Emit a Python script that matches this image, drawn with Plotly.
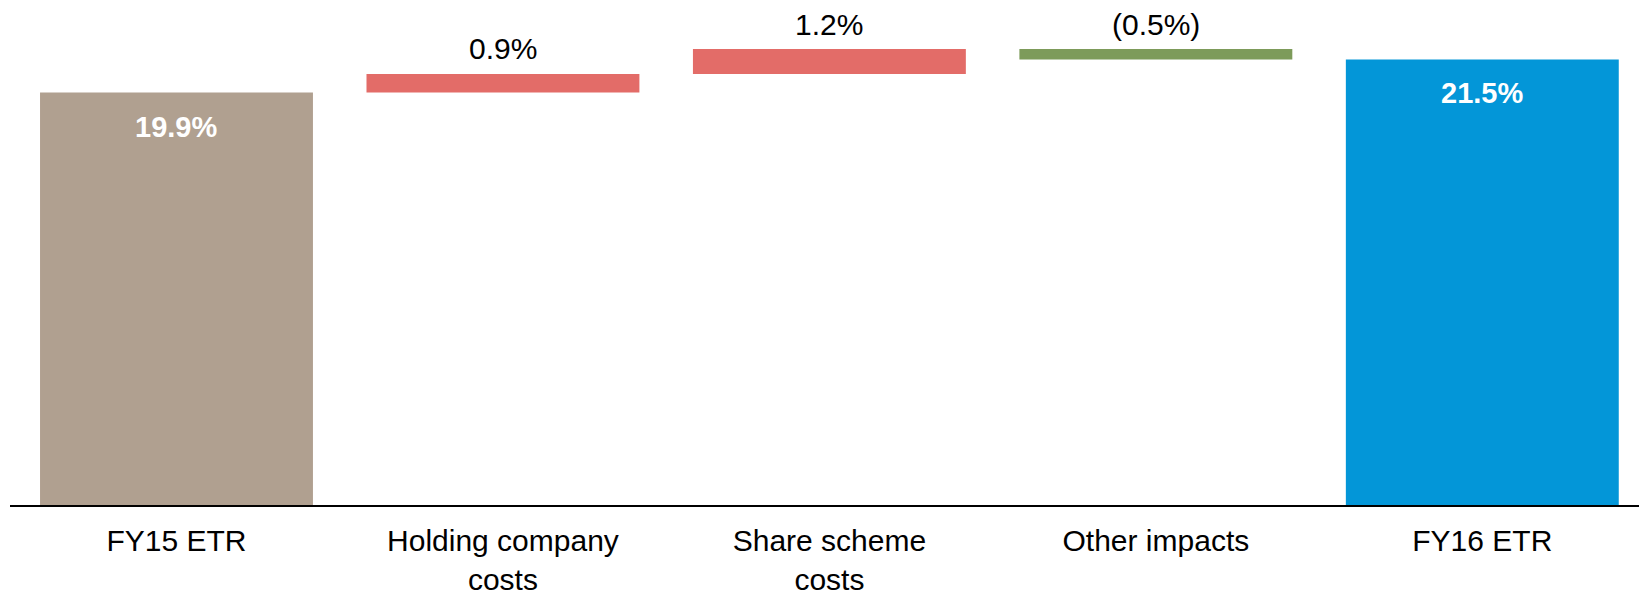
import plotly.graph_objects as go

# ---- data ----
categories = ["FY15 ETR", "Holding company<br>costs", "Share scheme<br>costs", "Other impacts", "FY16 ETR"]
values = [19.9, 0.9, 1.2, -0.5, 21.5]
value_labels = ["19.9%", "0.9%", "1.2%", "(0.5%)", "21.5%"]
measures = ["absolute", "relative", "relative", "relative", "total"]
colors = ["#B0A090", "#E36C68", "#E36C68", "#7D9B5A", "#0396D8"]

# ---- compute waterfall bases ----
bases = []
running = 0.0
for v, m in zip(values, measures):
    if m == "relative":
        bases.append(running)
        running += v
    else:
        bases.append(0.0)
        running = v

FONT = "Liberation Sans, Arial, sans-serif"

fig = go.Figure()
fig.add_trace(go.Bar(
    x=list(range(len(categories))),
    y=values,
    base=bases,
    width=0.836,
    marker=dict(color=colors, line=dict(width=0)),
    hoverinfo="skip",
    showlegend=False,
))

annotations = []
for i, (v, b, m, lab) in enumerate(zip(values, bases, measures, value_labels)):
    top = max(b, b + v)
    if m == "relative":
        annotations.append(dict(
            x=i, y=top, xref="x", yref="y", text=lab, showarrow=False,
            yanchor="middle", yshift=25,
            font=dict(family=FONT, size=30, color="#000000"),
        ))
    else:
        annotations.append(dict(
            x=i, y=top, xref="x", yref="y", text="<b>" + lab + "</b>", showarrow=False,
            yanchor="middle", yshift=-34,
            font=dict(family=FONT, size=29, color="#FFFFFF"),
        ))

fig.update_layout(
    width=1639, height=596,
    margin=dict(l=10, r=0, t=20, b=88),
    paper_bgcolor="white", plot_bgcolor="white",
    annotations=annotations,
    bargap=0.164,
    xaxis=dict(
        range=[-0.51, 4.48],
        tickmode="array",
        tickvals=list(range(len(categories))),
        ticktext=categories,
        showline=True, linecolor="#000000", linewidth=2,
        showgrid=False, zeroline=False, ticks="",
        ticklabelstandoff=8,
        tickfont=dict(family=FONT, size=30, color="#000000"),
        fixedrange=True,
    ),
    yaxis=dict(
        range=[0, 23.4],
        visible=False, showgrid=False, zeroline=False,
        fixedrange=True,
    ),
)

html = fig.to_html(full_html=True, include_plotlyjs=True, config={"displayModeBar": False})
html = html.replace("<head>", "<head><style>html,body{margin:0;padding:0;overflow:hidden;}</style>", 1)
with open("out.html", "w", encoding="utf-8") as f:
    f.write(html)
